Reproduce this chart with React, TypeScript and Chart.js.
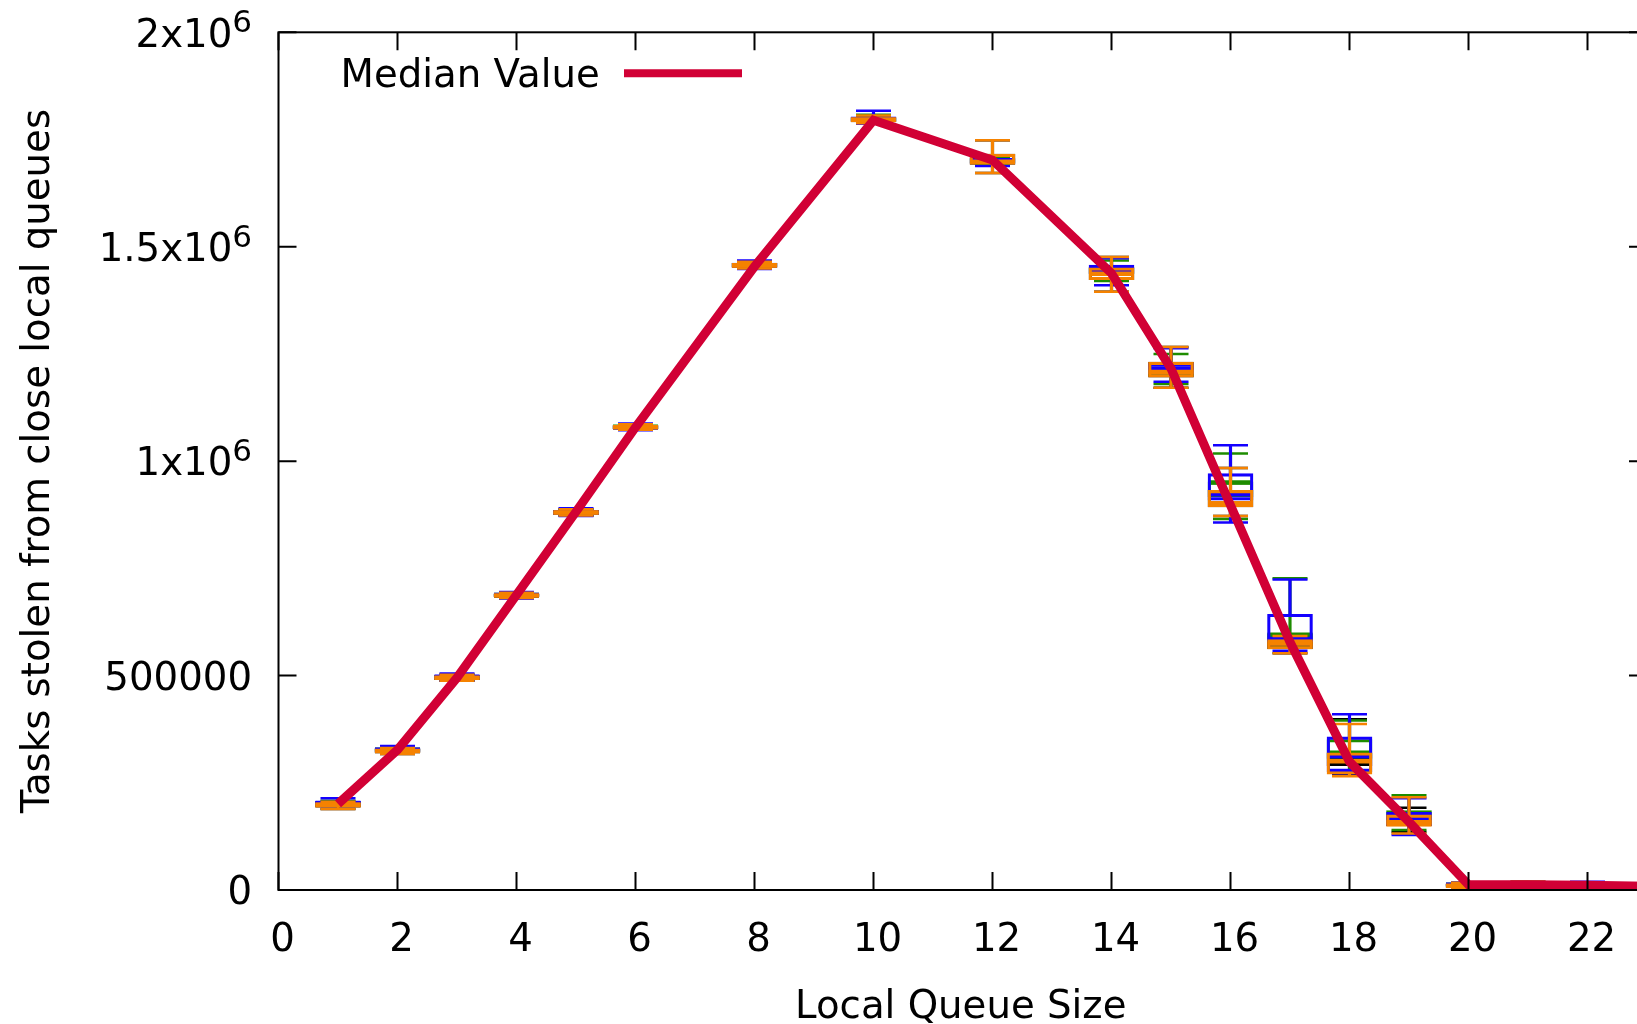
import React, { useEffect, useRef } from 'react';
import { Chart, registerables } from 'chart.js';

Chart.register(...registerables);

// ---------- data ----------
const positions = [1, 2, 3, 4, 5, 6, 8, 10, 12, 14, 15, 16, 17, 18, 19, 20, 21, 22];

const medianX = [1, 2, 3, 4, 5, 6, 8, 10, 12, 14, 15, 16, 17, 18, 19, 20, 21, 22, 23];
const medianValues = [201000, 327000, 495000, 688000, 882000, 1079000, 1454000, 1795000, 1702000, 1438000, 1216000, 897000, 578000, 299000, 159000, 12000, 12000, 11000, 9000];

// each row: [min, q1, median, q3, max]
const blueStats = [
  [196000, 199000, 203000, 207000, 214000],
  [318000, 322000, 327000, 331000, 336000],
  [488000, 492000, 497000, 500000, 505000],
  [680000, 684000, 688000, 691000, 695000],
  [872000, 876000, 881000, 885000, 890000],
  [1072000, 1075000, 1079000, 1083000, 1088000],
  [1448000, 1452000, 1457000, 1462000, 1468000],
  [1787000, 1792000, 1797000, 1803000, 1817000],
  [1688000, 1694000, 1699000, 1706000, 1712000],
  [1410000, 1437000, 1445000, 1457000, 1473000],
  [1185000, 1203000, 1216000, 1228000, 1263000],
  [857000, 909000, 923000, 971000, 1037000],
  [558000, 579000, 585000, 643000, 724000],
  [272000, 276000, 312000, 357000, 410000],
  [128000, 150000, 165000, 181000, 214000],
  [6000, 9000, 12000, 15000, 17000],
  [5000, 8000, 11000, 14000, 16000],
  [4000, 8000, 11000, 15000, 19000],
];

const greenStats = [
  [197000, 199000, 202000, 205000, 208000],
  [320000, 323000, 327000, 330000, 333000],
  [490000, 493000, 496000, 499000, 502000],
  [682000, 685000, 688000, 690000, 693000],
  [874000, 877000, 881000, 884000, 887000],
  [1073000, 1076000, 1080000, 1083000, 1086000],
  [1450000, 1453000, 1457000, 1461000, 1465000],
  [1790000, 1793000, 1797000, 1801000, 1808000],
  [1690000, 1695000, 1700000, 1705000, 1710000],
  [1420000, 1438000, 1446000, 1452000, 1468000],
  [1180000, 1200000, 1210000, 1220000, 1250000],
  [865000, 917000, 950000, 952000, 1018000],
  [565000, 585000, 595000, 598000, 727000],
  [278000, 307000, 320000, 351000, 395000],
  [140000, 155000, 168000, 185000, 221000],
  [6000, 9000, 12000, 14000, 16000],
  [6000, 9000, 12000, 14000, 16000],
  [5000, 8000, 11000, 14000, 17000],
];

const blackStats = [
  [189000, 193000, 198000, 204000, 206000],
  [317000, 320000, 324000, 328000, 331000],
  [488000, 491000, 495000, 499000, 502000],
  [681000, 684000, 687000, 690000, 693000],
  [873000, 876000, 880000, 885000, 888000],
  [1073000, 1076000, 1079000, 1083000, 1086000],
  [1449000, 1452000, 1456000, 1461000, 1465000],
  [1788000, 1791000, 1796000, 1801000, 1806000],
  [1672000, 1692000, 1698000, 1716000, 1748000],
  [1395000, 1423000, 1437000, 1451000, 1476000],
  [1171000, 1196000, 1208000, 1231000, 1266000],
  [872000, 893000, 902000, 932000, 984000],
  [552000, 562000, 575000, 584000, 592000],
  [270000, 290000, 305000, 320000, 398000],
  [135000, 150000, 159000, 175000, 192000],
  [3000, 6000, 10000, 14000, 17000],
  [5000, 10000, 13000, 17000, 19000],
  [4000, 7000, 10000, 13000, 16000],
];

const orangeStats = [
  [189000, 193000, 198000, 204000, 206000],
  [317000, 320000, 324000, 328000, 331000],
  [488000, 491000, 495000, 499000, 502000],
  [681000, 684000, 687000, 690000, 693000],
  [873000, 876000, 880000, 885000, 888000],
  [1073000, 1076000, 1079000, 1083000, 1086000],
  [1449000, 1452000, 1456000, 1461000, 1465000],
  [1788000, 1791000, 1796000, 1801000, 1806000],
  [1672000, 1692000, 1698000, 1716000, 1748000],
  [1395000, 1423000, 1437000, 1451000, 1476000],
  [1171000, 1196000, 1208000, 1231000, 1266000],
  [872000, 893000, 902000, 932000, 984000],
  [552000, 562000, 575000, 584000, 592000],
  [265000, 270000, 300000, 320000, 387000],
  [132000, 148000, 158000, 175000, 216000],
  [3000, 6000, 10000, 14000, 17000],
  [5000, 10000, 13000, 17000, 19000],
  [4000, 7000, 10000, 13000, 16000],
];

const xTickValues = [0, 2, 4, 6, 8, 10, 12, 14, 16, 18, 20, 22];
const yTickValues = [0, 500000, 1000000, 1500000, 2000000];
const yTickMantissas = ['0', '500000', '1x10', '1.5x10', '2x10'];
const yTickExponents = ['', '', '6', '6', '6'];

const xTitle = 'Local Queue Size';
const yTitle = 'Tasks stolen from close local queues';
const legendLabel = 'Median Value';

const MEDIAN_COLOR = '#d10035';
const FONT = '"DejaVu Sans", "Liberation Sans", sans-serif';
const FS = 38.7;

function boxDatasets(stats: number[][], color: string, order: number) {
  return [
    {
      type: 'bar',
      data: stats.flatMap((s, i) => [
        { x: positions[i], y: [s[0], s[1]] },
        { x: positions[i], y: [s[3], s[4]] },
      ]),
      backgroundColor: color,
      borderWidth: 0,
      barThickness: 2.5,
      grouped: false,
      order,
    },
    {
      type: 'bar',
      data: stats.map((s, i) => ({ x: positions[i], y: [s[1], s[3]] })),
      backgroundColor: 'rgba(0,0,0,0)',
      borderColor: color,
      borderWidth: 2.5,
      borderSkipped: false,
      barThickness: 45,
      grouped: false,
      order,
    },
    {
      type: 'scatter',
      data: stats.flatMap((s, i) => [
        { x: positions[i], y: s[0] },
        { x: positions[i], y: s[4] },
      ]),
      pointStyle: 'line',
      pointRadius: 17.5,
      pointBorderColor: color,
      pointBackgroundColor: color,
      pointBorderWidth: 2.5,
      borderColor: color,
      order,
    },
    {
      type: 'scatter',
      data: stats.map((s, i) => ({ x: positions[i], y: s[2] })),
      pointStyle: 'line',
      pointRadius: 22.5,
      pointBorderColor: color,
      pointBackgroundColor: color,
      pointBorderWidth: 4.5,
      borderColor: color,
      order,
    },
  ];
}

const framePlugin = {
  id: 'gnuplotFrame',
  afterDatasetsDraw(chart: any) {
    const { ctx, chartArea } = chart;
    const { left, right, top, bottom } = chartArea;
    const xs = chart.scales.x;
    const ys = chart.scales.y;
    ctx.save();
    ctx.strokeStyle = '#000';
    ctx.lineWidth = 2;
    ctx.strokeRect(left, top, right - left, bottom - top);
    ctx.beginPath();
    const TL = 18;
    xTickValues.forEach((v) => {
      const px = xs.getPixelForValue(v);
      ctx.moveTo(px, bottom);
      ctx.lineTo(px, bottom - TL);
      ctx.moveTo(px, top);
      ctx.lineTo(px, top + TL);
    });
    yTickValues.forEach((v) => {
      const py = ys.getPixelForValue(v);
      ctx.moveTo(left, py);
      ctx.lineTo(left + TL, py);
      ctx.moveTo(right, py);
      ctx.lineTo(right - TL, py);
    });
    ctx.stroke();

    ctx.fillStyle = '#000';
    // x tick labels
    ctx.font = `${FS}px ${FONT}`;
    ctx.textAlign = 'center';
    ctx.textBaseline = 'alphabetic';
    xTickValues.forEach((v) => {
      const px = xs.getPixelForValue(v);
      ctx.fillText(String(v), px + 4, bottom + 60.5);
    });

    // y tick labels with superscript exponent
    const labelRight = left - 26.5;
    yTickValues.forEach((v, i) => {
      const py = ys.getPixelForValue(v);
      const exp = yTickExponents[i];
      let rx = labelRight;
      ctx.textAlign = 'right';
      if (exp) {
        ctx.font = `31px ${FONT}`;
        ctx.fillText(exp, rx, py);
        rx -= ctx.measureText(exp).width;
      }
      ctx.font = `${FS}px ${FONT}`;
      ctx.fillText(yTickMantissas[i], rx, py + 14.2);
    });

    // x title
    ctx.font = `${FS}px ${FONT}`;
    ctx.textAlign = 'center';
    ctx.fillText(xTitle, (left + right) / 2 - 2, bottom + 128);

    // y title
    ctx.save();
    ctx.translate(48.5, (top + bottom) / 2);
    ctx.rotate(-Math.PI / 2);
    ctx.textAlign = 'center';
    ctx.fillText(yTitle, 0, 0);
    ctx.restore();

    // legend
    ctx.textAlign = 'left';
    ctx.fillText(legendLabel, left + 62, top + 54.5);
    ctx.beginPath();
    ctx.strokeStyle = MEDIAN_COLOR;
    ctx.lineWidth = 8;
    ctx.moveTo(left + 345.5, top + 41);
    ctx.lineTo(left + 463.5, top + 41);
    ctx.stroke();
    ctx.restore();
  },
};

export default function App() {
  const canvasRef = useRef<HTMLCanvasElement | null>(null);

  useEffect(() => {
    const canvas = canvasRef.current;
    if (!canvas) return;
    const datasets: any[] = [
      {
        type: 'line',
        data: medianX.map((x, i) => ({ x, y: medianValues[i] })),
        borderColor: MEDIAN_COLOR,
        backgroundColor: MEDIAN_COLOR,
        borderWidth: 9,
        pointRadius: 0,
        tension: 0,
        fill: false,
        order: 0,
      },
      ...boxDatasets(orangeStats, '#f58200', 1),
      ...boxDatasets(blueStats, '#1400ff', 2),
      ...boxDatasets(greenStats, '#1e8c00', 3),
      ...boxDatasets(blackStats, '#000000', 4),
    ];
    const chart = new Chart(canvas, {
      type: 'bar',
      data: { datasets },
      options: {
        responsive: false,
        animation: false,
        devicePixelRatio: 1,
        events: [],
        layout: { padding: { left: 278.5, top: 32.3, right: 53, bottom: 134 } },
        scales: {
          x: { type: 'linear', min: 0, max: 23, display: false, offset: false },
          y: { type: 'linear', min: 0, max: 2000000, display: false },
        },
        plugins: {
          legend: { display: false },
          tooltip: { enabled: false },
        },
      } as any,
      plugins: [framePlugin],
    } as any);
    return () => chart.destroy();
  }, []);

  return (
    <div
      style={{
        position: 'fixed',
        left: 0,
        top: 0,
        width: 1637,
        height: 1024,
        overflow: 'hidden',
        background: '#fff',
      }}
    >
      <canvas
        ref={canvasRef}
        width={1700}
        height={1024}
        style={{ display: 'block', width: 1700, height: 1024 }}
      />
    </div>
  );
}
